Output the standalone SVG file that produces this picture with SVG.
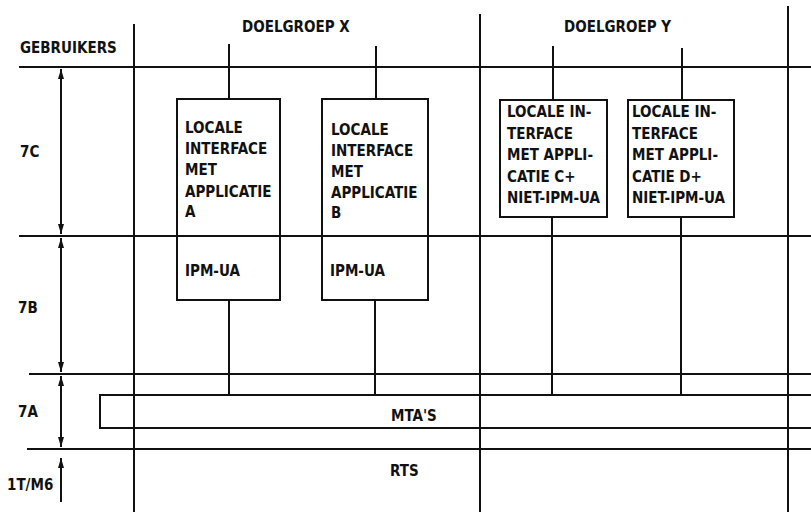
<svg xmlns="http://www.w3.org/2000/svg" width="811" height="512" viewBox="0 0 811 512">
<style>
.ln{stroke:#111;stroke-width:2;fill:none}
.bx{stroke:#111;stroke-width:2;fill:none}
.dim{stroke:#111;stroke-width:2;fill:none;marker-start:url(#ah);marker-end:url(#ah)}
text{font-family:"DejaVu Sans Condensed","Liberation Sans",sans-serif;font-weight:bold;font-size:15px;fill:#111}
</style>
<defs>
<marker id="ah" viewBox="0 0 10 6" refX="10" refY="3" markerWidth="10" markerHeight="6" markerUnits="userSpaceOnUse" orient="auto-start-reverse">
<path d="M0,0 L10,3 L0,6 z" fill="#111"/>
</marker>
</defs>
<rect width="811" height="512" fill="#fff"/>
<g id="grid">
<line class="ln" x1="19" y1="67" x2="811" y2="67"/>
<line class="ln" x1="19" y1="236" x2="811" y2="236"/>
<line class="ln" x1="29" y1="374" x2="811" y2="374"/>
<line class="ln" x1="27" y1="449" x2="811" y2="449"/>
<line class="ln" x1="134" y1="24" x2="134" y2="512"/>
<line class="ln" x1="480" y1="14" x2="480" y2="512"/>
<line class="ln" x1="788" y1="6" x2="788" y2="512"/>
</g>
<g id="labels">
<text x="20" y="53">GEBRUIKERS</text>
<text x="242" y="32">DOELGROEP X</text>
<text x="564" y="32">DOELGROEP Y</text>
<text x="20" y="157">7C</text>
<text x="18" y="313">7B</text>
<text x="18" y="417">7A</text>
<text x="7" y="490">1T/M6</text>
</g>
<g id="dimensions">
<line class="dim" x1="61" y1="69" x2="61" y2="234"/>
<line class="dim" x1="61" y1="238" x2="61" y2="372"/>
<line class="dim" x1="61" y1="376" x2="61" y2="447"/>
<line class="ln" x1="61" y1="502" x2="61" y2="458" style="marker-end:url(#ah)"/>
</g>
<g id="connectors">
<line class="ln" x1="229" y1="44" x2="229" y2="99"/>
<line class="ln" x1="229" y1="300" x2="229" y2="395"/>
<line class="ln" x1="376" y1="46" x2="376" y2="99"/>
<line class="ln" x1="375" y1="300" x2="375" y2="395"/>
<line class="ln" x1="553" y1="46" x2="553" y2="100"/>
<line class="ln" x1="552" y1="217" x2="552" y2="395"/>
<line class="ln" x1="682" y1="48" x2="682" y2="100"/>
<line class="ln" x1="681" y1="217" x2="681" y2="395"/>
</g>
<g id="boxA">
<rect class="bx" x="177" y="99" width="103" height="201"/>
<text x="185" y="133">LOCALE</text>
<text x="185" y="154">INTERFACE</text>
<text x="185" y="175">MET</text>
<text x="185" y="197">APPLICATIE</text>
<text x="185" y="217">A</text>
<text x="185" y="276">IPM-UA</text>
</g>
<g id="boxB">
<rect class="bx" x="322" y="99" width="106" height="201"/>
<text x="331" y="135">LOCALE</text>
<text x="331" y="156">INTERFACE</text>
<text x="331" y="177">MET</text>
<text x="331" y="198">APPLICATIE</text>
<text x="331" y="218">B</text>
<text x="330" y="276">IPM-UA</text>
</g>
<g id="boxC">
<rect class="bx" x="500" y="100" width="107" height="117"/>
<text x="507" y="117">LOCALE IN-</text>
<text x="507" y="139">TERFACE</text>
<text x="507" y="160">MET APPLI-</text>
<text x="507" y="182">CATIE C+</text>
<text x="507" y="203">NIET-IPM-UA</text>
</g>
<g id="boxD">
<rect class="bx" x="628" y="100" width="106" height="117"/>
<text x="632" y="117">LOCALE IN-</text>
<text x="632" y="139">TERFACE</text>
<text x="632" y="160">MET APPLI-</text>
<text x="632" y="182">CATIE D+</text>
<text x="632" y="203">NIET-IPM-UA</text>
</g>
<g id="mtas">
<rect class="bx" x="100" y="395" width="720" height="33"/>
<text x="391" y="421">MTA'S</text>
</g>
<g id="rts">
<text x="390" y="476">RTS</text>
</g>
</svg>
